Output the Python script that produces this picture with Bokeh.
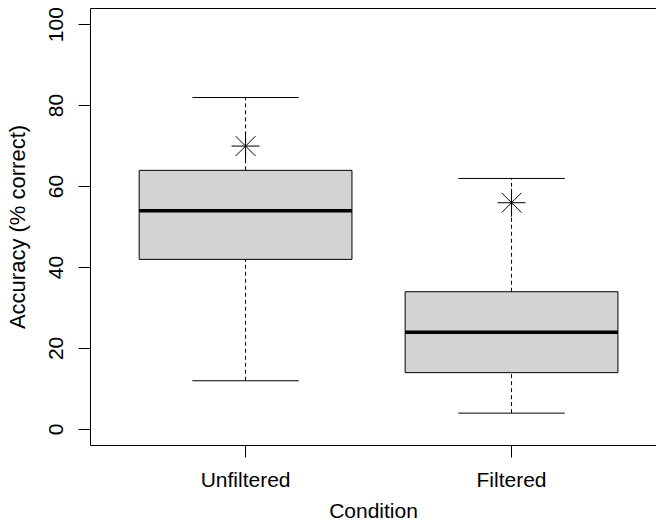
from bokeh.plotting import figure
from bokeh.models import FixedTicker, LinearAxis, Range1d
from bokeh.embed import file_html
from bokeh.resources import INLINE

# ---- data ----
categories = ["Unfiltered", "Filtered"]
positions = [1, 2]
lower_whisker = [12, 4]
q1 = [42, 14]
median = [54, 24]
q3 = [64, 34]
upper_whisker = [82, 62]
star_values = [70, 56]
y_ticks = [0, 20, 40, 60, 80, 100]

FONT = "Liberation Sans"
FS = "21px"
BOXW = 0.8
CAPW = 0.4

p = figure(frame_width=566, frame_height=437, output_backend="svg",
           toolbar_location=None, x_range=Range1d(0.417, 2.545),
           y_range=Range1d(-4, 104), min_border_left=90, min_border_right=0,
           min_border_top=8, min_border_bottom=79, x_axis_location="below")
p.grid.visible = False
p.outline_line_color = None
p.background_fill_color = "white"
p.border_fill_color = "white"

# whiskers (dashed)
p.segment(x0=positions, x1=positions, y0=q3, y1=upper_whisker,
          line_color="black", line_width=1, line_dash="4 3")
p.segment(x0=positions, x1=positions, y0=lower_whisker, y1=q1,
          line_color="black", line_width=1, line_dash="4 3")
# caps
p.segment(x0=[x - CAPW / 2 for x in positions], x1=[x + CAPW / 2 for x in positions],
          y0=upper_whisker, y1=upper_whisker, line_color="black", line_width=1)
p.segment(x0=[x - CAPW / 2 for x in positions], x1=[x + CAPW / 2 for x in positions],
          y0=lower_whisker, y1=lower_whisker, line_color="black", line_width=1)
# boxes
p.vbar(x=positions, width=BOXW, bottom=q1, top=q3, fill_color="#D3D3D3",
       line_color="black", line_width=1)
# medians
p.segment(x0=[x - BOXW / 2 for x in positions], x1=[x + BOXW / 2 for x in positions],
          y0=median, y1=median, line_color="black", line_width=3.5)
# stars
p.scatter(x=positions, y=star_values, marker="asterisk", size=28,
          line_color="black", line_width=1)

# axes
xa = p.xaxis[0]
xa.ticker = FixedTicker(ticks=positions)
xa.major_label_overrides = {pos: c for pos, c in zip(positions, categories)}
xa.axis_label = "Condition"

ya = p.yaxis[0]
ya.ticker = FixedTicker(ticks=y_ticks)
ya.axis_label = "Accuracy (% correct)"
ya.major_label_orientation = "vertical"

for ax in (xa, ya):
    ax.minor_tick_line_color = None
    ax.major_tick_in = 0
    ax.major_tick_out = 12
    ax.major_tick_line_color = "black"
    ax.axis_line_color = "black"
    ax.major_label_text_font = FONT
    ax.major_label_text_font_size = FS
    ax.major_label_text_color = "black"
    ax.axis_label_text_font = FONT
    ax.axis_label_text_font_size = FS
    ax.axis_label_text_font_style = "normal"
    ax.axis_label_text_color = "black"

ya.axis_label_text_font_size = "22px"
xa.major_label_standoff = 10
xa.axis_label_standoff = 5
ya.major_label_standoff = 15
ya.axis_label_standoff = 17

top = LinearAxis(ticker=FixedTicker(ticks=[]), major_tick_out=0, major_tick_in=0,
                 minor_tick_line_color=None, major_label_standoff=0,
                 axis_line_color="black")
p.add_layout(top, "above")

open("out.html", "w").write(file_html(p, INLINE))
